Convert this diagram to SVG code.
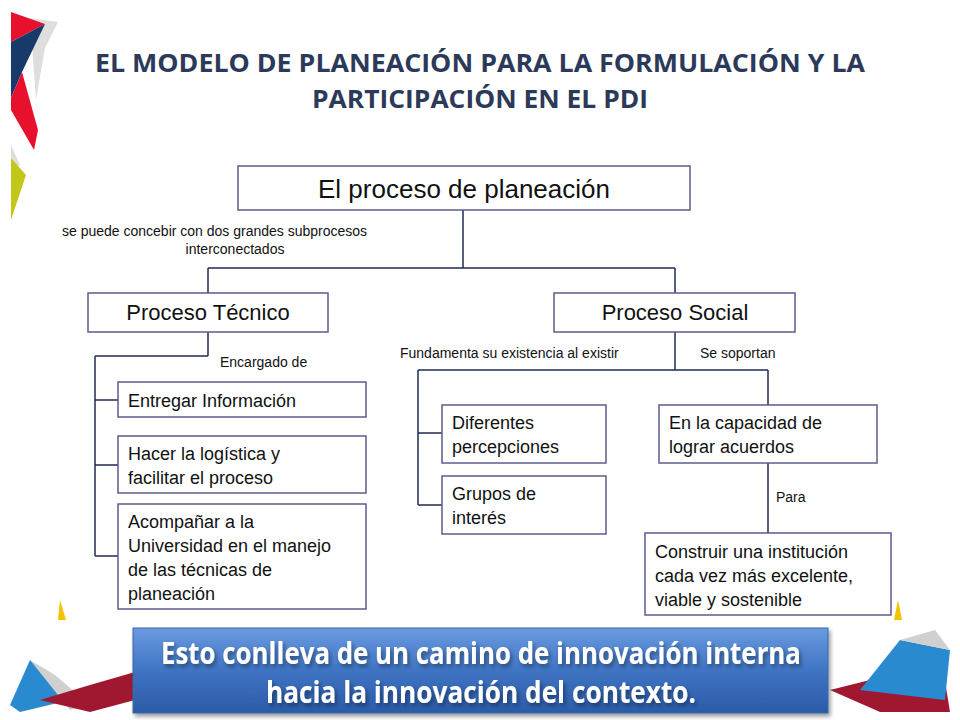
<svg xmlns="http://www.w3.org/2000/svg" width="960" height="720" viewBox="0 0 960 720">
<defs>
<linearGradient id="bg" x1="0" y1="0" x2="0" y2="1"><stop offset="0" stop-color="#6a9be0"/><stop offset="0.5" stop-color="#3f74c4"/><stop offset="1" stop-color="#2b5ba8"/></linearGradient>
<filter id="sh" x="-5%" y="-5%" width="110%" height="120%"><feDropShadow dx="2" dy="3" stdDeviation="2" flood-color="#000" flood-opacity="0.4"/></filter>
</defs>
<style>
.b{fill:#fff;stroke:#5c5c8c;stroke-width:1.5}
.t{font-family:"Liberation Sans",Arial,sans-serif;font-size:18px;fill:#111}
.t.big{font-size:26px}
.t.mid{font-size:22px}
.l{font-family:"Liberation Sans",Arial,sans-serif;font-size:14px;fill:#111}
.c line{stroke:#1f2a55;stroke-width:1.5}
.h{font-family:"Open Sans","Liberation Sans",sans-serif;font-weight:bold;font-size:25px;fill:#2c3a5a;text-anchor:middle}
</style>
<rect width="960" height="720" fill="#fff"/>
<g id="deco">
<polygon points="30,18 58,22 45,48 36,100" fill="#c8c8c8" opacity="0.6"/>
<polygon points="11,12 45,24 11,42" fill="#e8112d"/>
<polygon points="11,42 45,24 22,72 11,98" fill="#173a6b"/>
<polygon points="22,72 38,130 34,150 11,110 11,98" fill="#e8112d"/>
<polygon points="11,145 20,165 11,170" fill="#ddd"/>
<polygon points="11,158 26,175 11,220" fill="#c2c81a"/>
<polygon points="60,600 66,620 58,620" fill="#f2c200"/>
<polygon points="898,600 894,620 902,620" fill="#f2c200"/>
<polygon points="10,705 30,660 70,700 20,712" fill="#2a8ad0"/>
<polygon points="30,660 55,675 90,705 70,710" fill="#d0d0d0"/>
<polygon points="40,700 90,685 135,672 135,700 90,712" fill="#a01830"/>
<polygon points="830,690 870,680 940,650 950,712 880,712" fill="#a01830"/>
<polygon points="860,690 900,640 950,650 945,700" fill="#2a8ad0"/>
<polygon points="900,640 935,630 950,650" fill="#d0d0d0"/>
</g>
<text class="h" x="480" y="72" textLength="770" lengthAdjust="spacingAndGlyphs">EL MODELO DE PLANEACIÓN PARA LA FORMULACIÓN Y LA</text>
<text class="h" x="480" y="108" textLength="336" lengthAdjust="spacingAndGlyphs">PARTICIPACIÓN EN EL PDI</text>
<g class="c" id="connectors">
<line x1="463" y1="210" x2="463" y2="268"/>
<line x1="208" y1="268" x2="675" y2="268"/>
<line x1="208" y1="268" x2="208" y2="293"/>
<line x1="675" y1="268" x2="675" y2="293"/>
<line x1="208" y1="332" x2="208" y2="356"/>
<line x1="95" y1="356" x2="208" y2="356"/>
<line x1="95" y1="356" x2="95" y2="556"/>
<line x1="95" y1="400" x2="118" y2="400"/>
<line x1="95" y1="465" x2="118" y2="465"/>
<line x1="95" y1="556" x2="118" y2="556"/>
<line x1="675" y1="332" x2="675" y2="370"/>
<line x1="418" y1="370" x2="768" y2="370"/>
<line x1="418" y1="370" x2="418" y2="505"/>
<line x1="418" y1="433" x2="442" y2="433"/>
<line x1="418" y1="505" x2="442" y2="505"/>
<line x1="768" y1="370" x2="768" y2="405"/>
<line x1="768" y1="463" x2="768" y2="533"/>
</g>
<text class="l" x="62" y="236">se puede concebir con dos grandes subprocesos</text>
<text class="l" x="235" y="254" text-anchor="middle">interconectados</text>
<text class="l" x="220" y="367">Encargado de</text>
<text class="l" x="400" y="358">Fundamenta su existencia al existir</text>
<text class="l" x="700" y="358">Se soportan</text>
<text class="l" x="776" y="502">Para</text>
<g id="n1"><rect class="b" x="238" y="166" width="452" height="44"/><text class="t big" x="464" y="198" text-anchor="middle">El proceso de planeación</text></g>
<g id="n2"><rect class="b" x="88" y="293" width="240" height="39"/><text class="t mid" x="208" y="320" text-anchor="middle">Proceso Técnico</text></g>
<g id="n3"><rect class="b" x="554" y="293" width="241" height="39"/><text class="t mid" x="675" y="320" text-anchor="middle">Proceso Social</text></g>
<g id="n4"><rect class="b" x="118" y="382" width="248" height="35"/><text class="t" x="128" y="407">Entregar Información</text></g>
<g id="n5"><rect class="b" x="118" y="436" width="248" height="57"/><text class="t" x="128" y="460">Hacer la logística y</text><text class="t" x="128" y="484">facilitar el proceso</text></g>
<g id="n6"><rect class="b" x="118" y="504" width="248" height="105"/><text class="t" x="128" y="528">Acompañar a la</text><text class="t" x="128" y="552">Universidad en el manejo</text><text class="t" x="128" y="576">de las técnicas de</text><text class="t" x="128" y="600">planeación</text></g>
<g id="n7"><rect class="b" x="442" y="405" width="164" height="58"/><text class="t" x="452" y="429">Diferentes</text><text class="t" x="452" y="453">percepciones</text></g>
<g id="n8"><rect class="b" x="442" y="476" width="164" height="58"/><text class="t" x="452" y="500">Grupos de</text><text class="t" x="452" y="524">interés</text></g>
<g id="n9"><rect class="b" x="659" y="405" width="218" height="58"/><text class="t" x="669" y="429">En la capacidad de</text><text class="t" x="669" y="453">lograr acuerdos</text></g>
<g id="n10"><rect class="b" x="645" y="533" width="246" height="82"/><text class="t" x="655" y="558">Construir una institución</text><text class="t" x="655" y="582">cada vez más excelente,</text><text class="t" x="655" y="606">viable y sostenible</text></g>
<g id="banner">
<rect x="133" y="628" width="695" height="85" fill="url(#bg)" stroke="#3a66a8" filter="url(#sh)"/>
<g font-family="'Open Sans','Liberation Sans',sans-serif" font-weight="bold" font-size="30" fill="#fff" text-anchor="middle" filter="url(#sh)">
<text x="481" y="664" textLength="640" lengthAdjust="spacingAndGlyphs">Esto conlleva de un camino de innovación interna</text>
<text x="481" y="703" textLength="430" lengthAdjust="spacingAndGlyphs">hacia la innovación del contexto.</text>
</g>
</g>
</svg>
